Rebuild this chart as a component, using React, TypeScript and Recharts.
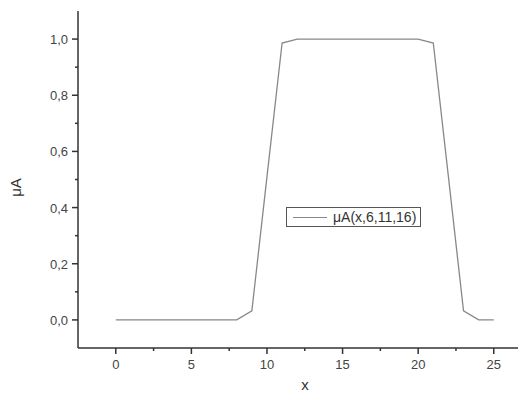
import { LineChart, Line, XAxis, YAxis, Legend } from "recharts"

const xValues = [0, 1, 2, 3, 4, 5, 6, 7, 8, 9, 10, 11, 12, 13, 14, 15, 16, 17, 18, 19, 20, 21, 22, 23, 24, 25]
const muValues = [0, 0, 0, 0, 0, 0, 0, 0, 0, 0.032, 0.51, 0.986, 1, 1, 1, 1, 1, 1, 1, 1, 1, 0.986, 0.51, 0.032, 0, 0]

const xTicks = [0, 2.5, 5, 7.5, 10, 12.5, 15, 17.5, 20, 22.5, 25]
const yTicks = [0, 0.1, 0.2, 0.3, 0.4, 0.5, 0.6, 0.7, 0.8, 0.9, 1.0]

const seriesName = "μA(x,6,11,16)"

const data = xValues.map((x, i) => ({ x, mu: muValues[i] }))

const FONT = "'Liberation Sans', Arial, sans-serif"
const AXIS_COLOR = "#333"
const LABEL_COLOR = "#444"

function XTick({ x, y, payload }: any) {
  const minor = payload.value % 5 !== 0
  return (
    <g>
      <line x1={x} x2={x} y1={y} y2={y + (minor ? 3 : 6)} stroke={AXIS_COLOR} strokeWidth={1.5} />
      {!minor && (
        <text x={x} y={y + 21} textAnchor="middle" fill={LABEL_COLOR} fontSize={13} fontFamily={FONT}>
          {payload.value}
        </text>
      )}
    </g>
  )
}

function YTick({ x, y, payload }: any) {
  const minor = Math.round(payload.value * 10) % 2 !== 0
  return (
    <g>
      <line x1={x} x2={x - (minor ? 3 : 6)} y1={y} y2={y} stroke={AXIS_COLOR} strokeWidth={1.5} />
      {!minor && (
        <text x={x - 10} y={y + 5} textAnchor="end" fill={LABEL_COLOR} fontSize={13} fontFamily={FONT}>
          {payload.value.toFixed(1).replace(".", ",")}
        </text>
      )}
    </g>
  )
}

function XLabel({ viewBox }: any) {
  return (
    <text x={viewBox.x + viewBox.width / 2 + 4} y={viewBox.y + 42} textAnchor="middle" fill="#333" fontSize={15} fontFamily={FONT}>
      x
    </text>
  )
}

function YLabel({ viewBox }: any) {
  const cy = viewBox.y + viewBox.height / 2 + 8
  return (
    <text x={21} y={cy} transform={`rotate(-90 21 ${cy})`} textAnchor="middle" fill="#333" fontSize={15} fontFamily={FONT}>
      μA
    </text>
  )
}

function LegendBox() {
  return (
    <div
      style={{
        display: "flex",
        alignItems: "center",
        border: "1px solid #555",
        padding: "1px 4px 1px 6px",
        background: "#fff",
        fontFamily: FONT,
        fontSize: 14,
        color: "#333",
        whiteSpace: "nowrap",
      }}
    >
      <span style={{ display: "inline-block", width: 34, height: 0, borderTop: "1.5px solid #888", marginRight: 6 }} />
      {seriesName}
    </div>
  )
}

export default function App() {
  return (
    <div style={{ margin: -8, width: 526, height: 398, background: "#fff" }}>
      <LineChart width={526} height={398} data={data} margin={{ top: 11, right: 2, bottom: 0, left: 0 }}>
        <XAxis
          dataKey="x"
          type="number"
          domain={[-2.5, 27]}
          ticks={xTicks}
          interval={0}
          tickSize={0}
          tickMargin={0}
          tickLine={false}
          tick={<XTick />}
          axisLine={{ stroke: AXIS_COLOR, strokeWidth: 1.5 }}
          height={50}
          allowDataOverflow
          label={<XLabel />}
        />
        <YAxis
          type="number"
          domain={[-0.1, 1.1]}
          ticks={yTicks}
          interval={0}
          tickSize={0}
          tickMargin={0}
          tickLine={false}
          tick={<YTick />}
          axisLine={{ stroke: AXIS_COLOR, strokeWidth: 1.5 }}
          width={78}
          allowDataOverflow
          label={<YLabel />}
        />
        <Legend
          layout="horizontal"
          verticalAlign="middle"
          align="center"
          content={<LegendBox />}
          wrapperStyle={{ left: 286, top: 207, width: "auto" }}
        />
        <Line
          dataKey="mu"
          name={seriesName}
          type="linear"
          stroke="#888"
          strokeWidth={1.3}
          dot={false}
          isAnimationActive={false}
        />
      </LineChart>
    </div>
  )
}
